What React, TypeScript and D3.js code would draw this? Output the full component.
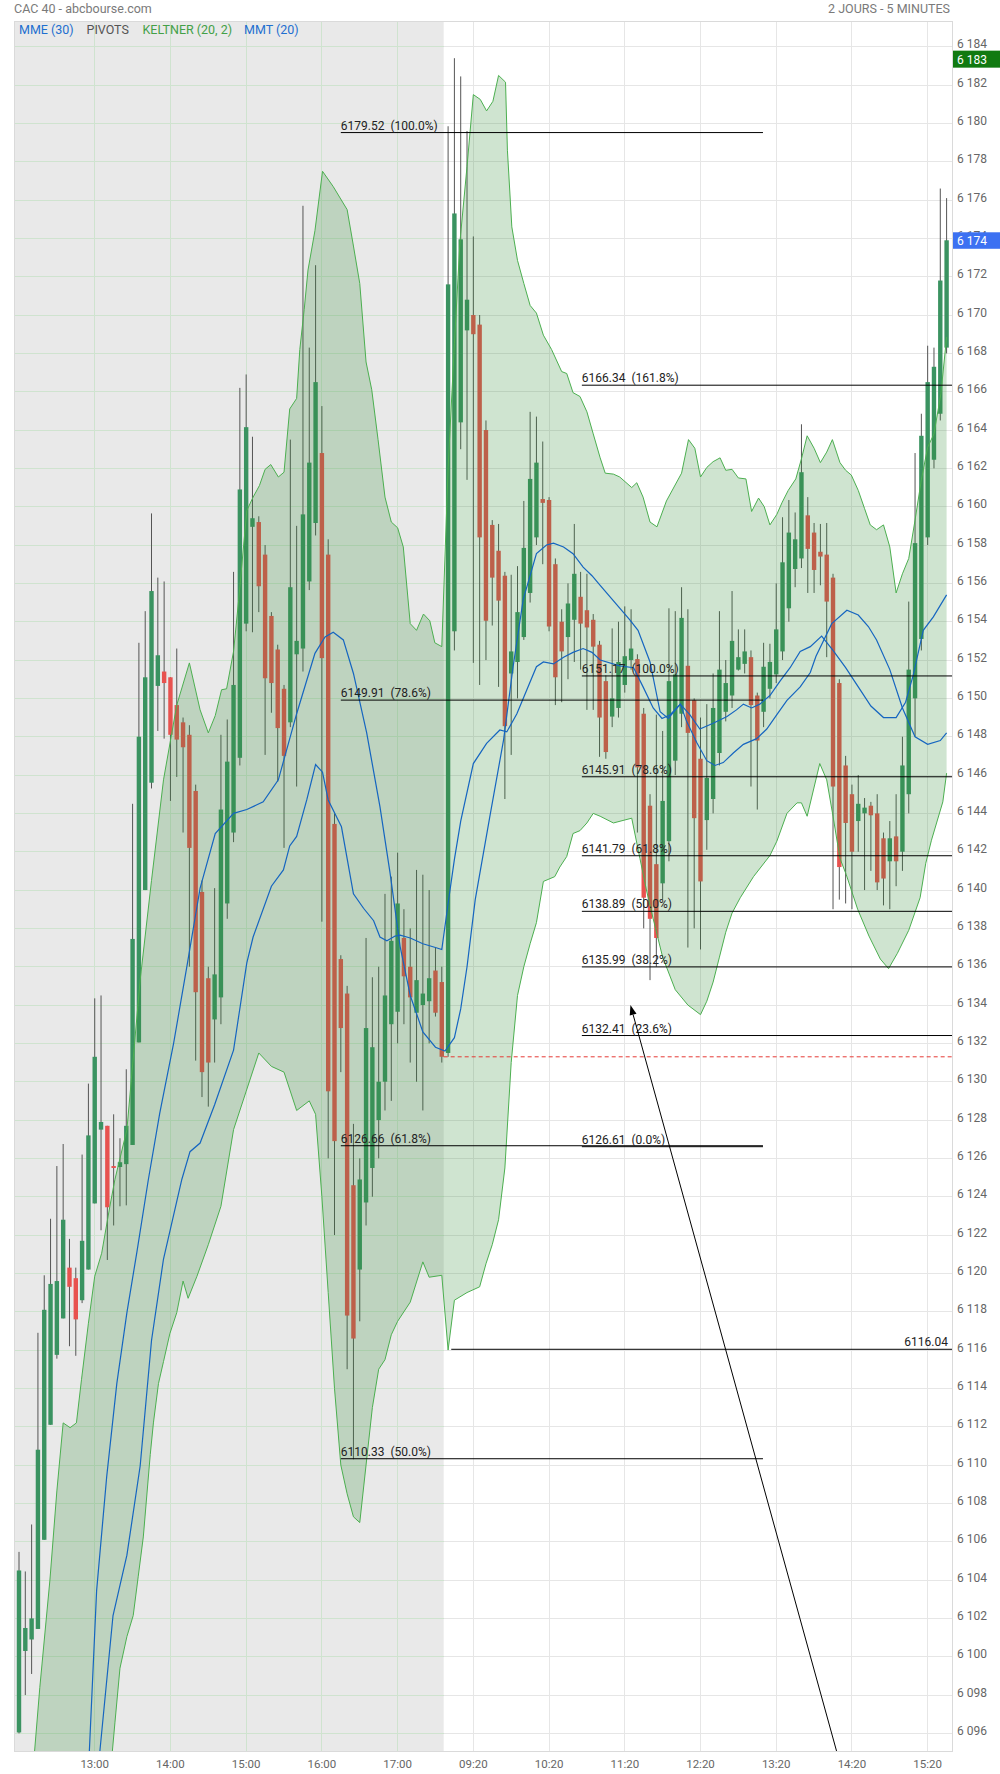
import { useEffect } from 'react';
import * as d3 from 'd3';

// candle data, 5 minute bars: index 0 = 12:00 day 1, index 68 = 09:00 day 2
const OPEN = [
  6096.05, 6100.3, 6100.9, 6101.45, 6106.1, 6112.1, 6115.75, 6117.65, 6120.3, 6119.75,
  6118.6, 6120.2, 6123.65, 6127.5, 6127.7, 6125.6, 6125.55, 6125.7, 6126.7, 6132.05,
  6140.0, 6145.6, 6150.65, 6151.4, 6151.1, 6149.65, 6148.75, 6148.1, 6145.17, 6139.9,
  6135.4, 6133.25, 6134.4, 6139.3, 6143.0, 6146.9, 6153.9, 6158.95, 6159.2, 6157.5,
  6154.3, 6152.55, 6150.5, 6148.75, 6152.3, 6152.6, 6156.1, 6159.15, 6162.8, 6157.5,
  6143.45, 6136.4, 6134.6, 6124.6, 6120.2, 6123.7, 6125.5, 6128.0, 6130.0, 6133.0,
  6133.65, 6137.5, 6136.0, 6133.6, 6134.0, 6134.2, 6135.8, 6135.2,
  6131.5, 6153.5, 6164.4, 6169.2, 6170.0, 6169.5, 6164.0, 6159.05, 6157.7, 6156.4,
  6151.3, 6151.9, 6153.2, 6155.5, 6158.4, 6160.4, 6160.35, 6157.0, 6154.0, 6153.2,
  6154.1, 6155.3, 6154.6, 6154.1, 6152.8, 6150.9, 6149.05, 6149.5, 6150.7, 6152.0,
  6152.05, 6149.2, 6144.4, 6141.35, 6140.35, 6142.55, 6146.75, 6149.2, 6151.7, 6149.9,
  6146.85, 6143.65, 6144.75, 6147.15, 6149.3, 6150.15, 6151.5, 6151.8, 6152.15, 6150.15,
  6149.3, 6150.5, 6151.25, 6152.45, 6154.7, 6156.75, 6157.3, 6159.55, 6158.65, 6157.65,
  6157.5, 6156.3, 6150.8, 6146.5, 6145.0, 6143.6, 6144.0, 6144.4, 6144.0, 6142.7,
  6141.5, 6142.8, 6142.0, 6145.0, 6150.0, 6153.1, 6158.4, 6162.45, 6164.85, 6168.3,
];
const HIGH = [
  6105.47, 6104.45, 6106.9, 6116.9, 6119.9, 6122.85, 6125.6, 6126.75, 6121.8, 6120.3,
  6126.2, 6129.9, 6134.35, 6134.5, 6127.7, 6128.3, 6127.05, 6130.65, 6144.5, 6152.9,
  6154.55, 6159.65, 6156.3, 6156.1, 6151.1, 6152.6, 6149.0, 6148.6, 6145.5, 6140.5,
  6136.0, 6140.1, 6148.1, 6148.9, 6156.6, 6166.2, 6166.9, 6163.65, 6159.5, 6158.0,
  6154.5, 6152.8, 6150.7, 6163.5, 6159.0, 6175.7, 6168.3, 6172.6, 6165.25, 6158.3,
  6144.0, 6136.6, 6135.0, 6127.8, 6126.0, 6137.5, 6135.45, 6136.0, 6139.8, 6140.7,
  6141.95, 6139.0, 6138.0, 6141.05, 6140.8, 6140.0, 6137.0, 6136.0,
  6179.85, 6183.4, 6182.45, 6179.6, 6174.1, 6170.0, 6164.5, 6159.3, 6159.1, 6156.6,
  6156.45, 6156.9, 6160.3, 6164.95, 6164.7, 6163.4, 6160.5, 6157.3, 6154.65, 6156.0,
  6159.1, 6156.6, 6156.5, 6154.4, 6153.0, 6151.2, 6153.65, 6154.0, 6154.8, 6154.65,
  6152.3, 6149.5, 6145.0, 6149.15, 6148.3, 6154.7, 6154.55, 6155.8, 6154.65, 6150.0,
  6149.0, 6149.7, 6151.3, 6154.55, 6152.0, 6155.6, 6153.6, 6153.6, 6152.5, 6150.3,
  6152.9, 6152.85, 6156.0, 6159.45, 6160.35, 6159.7, 6164.3, 6160.5, 6159.15, 6159.1,
  6159.15, 6156.5, 6151.0, 6147.0, 6145.5, 6146.0, 6144.8, 6144.6, 6145.0, 6143.0,
  6143.6, 6145.0, 6148.0, 6155.05, 6162.8, 6164.85, 6168.4, 6168.3, 6176.6, 6176.1,
];
const LOW = [
  6096.0, 6098.0, 6099.1, 6101.45, 6106.1, 6112.1, 6115.55, 6117.65, 6116.2, 6115.7,
  6118.45, 6120.2, 6123.65, 6122.25, 6120.7, 6122.5, 6123.5, 6123.55, 6126.7, 6132.05,
  6140.0, 6145.3, 6148.3, 6147.9, 6144.65, 6145.9, 6143.0, 6136.0, 6131.1, 6129.2,
  6128.7, 6131.0, 6133.0, 6138.5, 6142.5, 6146.5, 6153.5, 6153.45, 6154.5, 6147.05,
  6149.25, 6145.65, 6142.2, 6148.5, 6145.4, 6151.4, 6155.65, 6158.5, 6138.35, 6126.0,
  6122.0, 6130.5, 6115.0, 6110.3, 6117.5, 6122.5, 6124.0, 6126.0, 6128.5, 6129.0,
  6132.0, 6133.0, 6131.0, 6130.0, 6128.5, 6132.0, 6133.4, 6131.0,
  6131.3, 6152.5, 6163.0, 6161.4, 6151.85, 6150.7, 6152.0, 6153.8, 6150.6, 6144.75,
  6147.05, 6150.0, 6153.05, 6155.0, 6158.0, 6157.0, 6153.5, 6149.65, 6149.8, 6151.0,
  6151.9, 6151.5, 6149.4, 6149.4, 6146.95, 6146.85, 6148.5, 6149.0, 6150.3, 6151.5,
  6143.0, 6138.0, 6135.3, 6136.0, 6139.5, 6141.5, 6146.0, 6148.5, 6137.0, 6138.0,
  6136.9, 6142.1, 6144.0, 6146.5, 6148.8, 6149.5, 6151.45, 6151.3, 6145.4, 6144.2,
  6148.5, 6150.0, 6150.8, 6152.0, 6154.0, 6155.8, 6156.8, 6155.5, 6155.5, 6155.9,
  6152.15, 6139.0, 6139.5, 6139.3, 6139.0, 6142.0, 6140.0, 6141.0, 6140.0, 6139.2,
  6139.0, 6140.2, 6141.0, 6144.0, 6148.0, 6152.5, 6158.0, 6162.0, 6164.5, 6168.0,
];
const CLOSE = [
  6104.5, 6101.5, 6102.0, 6110.8, 6118.1, 6119.45, 6119.6, 6122.8, 6119.3, 6117.6,
  6121.7, 6127.2, 6131.3, 6127.9, 6123.45, 6125.5, 6125.8, 6127.7, 6137.45, 6148.0,
  6151.1, 6155.6, 6152.25, 6150.8, 6148.1, 6147.85, 6147.45, 6142.2, 6134.67, 6130.5,
  6131.0, 6135.6, 6144.2, 6146.7, 6150.7, 6160.9, 6164.15, 6159.4, 6155.85, 6151.05,
  6150.8, 6148.45, 6147.0, 6155.8, 6153.0, 6159.6, 6162.3, 6166.5, 6152.1, 6129.5,
  6126.9, 6132.8, 6117.8, 6116.6, 6124.9, 6132.8, 6131.8, 6130.0, 6134.5, 6137.35,
  6139.3, 6135.5, 6134.4, 6135.3, 6134.6, 6135.4, 6133.6, 6131.3,
  6171.6, 6175.3, 6173.95, 6170.8, 6169.0, 6158.4, 6154.05, 6156.3, 6155.1, 6148.55,
  6152.45, 6154.5, 6157.85, 6161.45, 6162.3, 6160.2, 6153.75, 6151.1, 6152.45, 6154.95,
  6156.5, 6153.9, 6153.7, 6152.7, 6149.0, 6147.2, 6150.0, 6151.9, 6152.2, 6152.6,
  6146.4, 6139.6, 6138.5, 6137.5, 6144.65, 6150.9, 6151.25, 6154.2, 6148.2, 6143.75,
  6140.45, 6145.85, 6149.5, 6151.5, 6150.8, 6153.0, 6152.15, 6152.45, 6149.65, 6147.8,
  6151.65, 6151.9, 6153.6, 6157.1, 6158.65, 6158.3, 6161.8, 6157.8, 6156.7, 6157.4,
  6155.05, 6145.4, 6141.2, 6143.5, 6142.0, 6144.5, 6144.3, 6143.9, 6140.4, 6140.6,
  6142.7, 6141.5, 6146.5, 6151.5, 6158.1, 6163.7, 6166.5, 6167.3, 6171.8, 6173.9,
];

// indicator outlines: [candle index, value]
const KELTNER_UPPER: [number, number][] = [
  [2.2, 6094], [3.3, 6098.4], [4.9, 6104.0], [6.0, 6108.65], [7.0, 6112.2], [8.1, 6111.95],
  [9.1, 6112.2], [9.9, 6114.45], [11, 6117.4], [12, 6119.85], [13.1, 6121.05], [14.4, 6123.5],
  [15.2, 6124.9], [17.1, 6127.5], [19.2, 6135.3], [21.0, 6140.5], [22.9, 6145.75], [25, 6149.65],
  [27, 6151.85], [28.7, 6149.4], [30, 6148.2], [31.1, 6149.1], [32.1, 6150.45], [32.9, 6150.5],
  [34, 6152.45], [34.8, 6155.1], [36.1, 6159.8], [37.1, 6160.5], [38.1, 6161.1], [39.0, 6161.95],
  [39.9, 6162.2], [41.1, 6161.55], [42.0, 6161.8], [42.9, 6165.1], [44.0, 6165.65], [44.5, 6168.2],
  [45.2, 6170.3], [45.8, 6172.35], [46.9, 6174.4], [48.1, 6177.5], [49.8, 6176.7], [52.0, 6175.5],
  [53.0, 6173.6], [54.0, 6171.65], [55.0, 6167.55], [55.9, 6166.1], [56.9, 6163.5], [58.0, 6160.5],
  [59.0, 6159.2], [60.0, 6158.9], [60.9, 6157.9], [62, 6153.9], [63, 6153.55], [64.1, 6154.4],
  [65.1, 6154.05], [65.9, 6152.9], [67, 6152.7], [68, 6162], [69, 6168.5], [69.9, 6173.9],
  [71, 6177.75], [72, 6181.5], [73.1, 6181.25], [74.1, 6180.65], [75.1, 6181.15], [76, 6182.5],
  [77.1, 6182.15], [77.4, 6178.6], [78.1, 6174.6], [79, 6172.85], [80, 6171.65], [81, 6170.5],
  [82, 6170.1], [83.1, 6168.95], [84.4, 6168.2], [86, 6167.05], [86.8, 6166.95], [87.8, 6165.95],
  [88.9, 6165.75], [90, 6164.95], [91, 6163.8], [92.1, 6162.55], [92.9, 6161.75], [94.2, 6161.7],
  [95.2, 6161.55], [97.1, 6161.0], [97.9, 6161.25], [98.9, 6160.5], [100, 6159.2], [101.1, 6158.95],
  [102.6, 6160.3], [105, 6161.75], [106.1, 6163.5], [107.1, 6163.05], [108, 6161.55], [109, 6162.05],
  [110, 6162.35], [111.1, 6162.55], [112, 6161.9], [113, 6161.95], [114, 6161.5], [115.2, 6161.45],
  [116.1, 6159.75], [117.2, 6160.45], [118.1, 6160.0], [119, 6159.05], [120.1, 6159.6], [120.9, 6160.2],
  [121.9, 6160.85], [123.1, 6161.45], [124, 6162.5], [124.9, 6163.7], [126, 6163.05], [127, 6162.3],
  [128, 6162.85], [128.9, 6163.5], [130.1, 6162.3], [131, 6161.9], [131.9, 6161.65], [133, 6160.85],
  [134, 6159.9], [134.9, 6159.05], [135.9, 6158.8], [137, 6159.05], [138, 6157.9], [139, 6155.5],
  [140, 6156.5], [141, 6157.3], [142, 6159.3], [143, 6161.4], [144, 6163.1], [145, 6163.8],
  [146.1, 6165.9], [147, 6168.85],
];
const KELTNER_LOWER: [number, number][] = [
  [14.5, 6094], [15.2, 6096.55], [16, 6099.4], [17.1, 6101.05], [18.1, 6102.15], [18.9, 6104.2],
  [19.7, 6106.25], [20.8, 6110.55], [21.3, 6112.2], [22.1, 6114.25], [22.9, 6115.4], [23.9, 6116.85],
  [25, 6117.95], [26, 6119.6], [26.8, 6118.7], [28.2, 6119.85], [30, 6121.5], [32, 6123.5],
  [34, 6127.5], [36, 6129.5], [38, 6131.5], [40, 6130.8], [42, 6130.5], [44, 6128.5],
  [46, 6129.0], [47, 6128.3], [48, 6124], [49, 6119], [50, 6114], [51, 6110], [52, 6108.5],
  [53, 6107.3], [54, 6107.0], [55, 6110], [56, 6113], [57, 6115], [58, 6115.5], [59, 6116.8],
  [60, 6117.5], [62, 6118.5], [64, 6120.6], [65, 6119.8], [67, 6119.9], [68, 6116.0],
  [69, 6118.6], [71, 6119.0], [73, 6119.3], [74, 6120.5], [75, 6121.5], [76, 6122.8],
  [77, 6125.5], [78, 6131], [79, 6134.5], [80, 6136], [81, 6137.2], [82, 6138.3], [83.1, 6140.45],
  [84.9, 6140.7], [85.7, 6141.2], [86.8, 6141.75], [87.8, 6142.95], [88.9, 6143.1], [90, 6143.5],
  [91, 6144.0], [92.1, 6143.85], [94.2, 6143.5], [97.1, 6143.75], [98.4, 6141.65], [99.5, 6139.9],
  [100.5, 6138.5], [102, 6136.5], [104, 6134.8], [106, 6134.0], [108, 6133.5], [109, 6134.2],
  [110, 6135.2], [111, 6136.5], [112, 6137.8], [113, 6138.8], [114.3, 6139.6], [116.4, 6140.7],
  [119, 6141.8], [120.1, 6142.55], [121.7, 6144.0], [123.3, 6144.55], [124, 6144.55], [124.9, 6143.85],
  [126.9, 6146.6], [128, 6145.75], [129, 6143.85], [130.1, 6141.65], [131.1, 6140.8], [132.9, 6139.0],
  [134.7, 6137.6], [136.5, 6136.4], [137.8, 6135.9], [139.2, 6136.7], [141, 6137.9], [142.8, 6139.6],
  [143.7, 6141.4], [144.6, 6142.6], [146.4, 6144.6], [147, 6146.1],
];
const MME_30: [number, number][] = [
  [12.5, 6094], [14.9, 6102.15], [17.1, 6105.3], [19.2, 6109.95], [21.0, 6116.5], [22.9, 6120.75],
  [25.8, 6124.9], [27.1, 6126.35], [28.7, 6126.8], [31, 6128.8], [34, 6131.65], [36.1, 6136.2],
  [37.1, 6137.55], [40, 6140.2], [41.9, 6141.05], [42.9, 6142.3], [44, 6142.8], [45.6, 6144.7],
  [47, 6146.55], [48.1, 6146.15], [49, 6144.7], [51.1, 6143.3], [53, 6139.8], [54.6, 6139.05],
  [56.2, 6138.4], [57.2, 6137.55], [58.3, 6137.35], [59.6, 6137.6], [60.4, 6137.65], [62, 6137.5],
  [64, 6137.2], [66, 6137.0], [67, 6136.9], [68, 6139.3], [69, 6141.6], [70, 6143.6], [72, 6146.6],
  [74.1, 6147.65], [76.2, 6148.35], [77.3, 6148.25], [78.9, 6149.2], [82, 6151.65], [83.1, 6151.9],
  [84.7, 6151.8], [86.3, 6152.15], [87.8, 6152.4], [89.4, 6152.6], [90.8, 6152.4], [92.1, 6152.0],
  [95.2, 6151.7], [97.4, 6151.6], [98.9, 6150.6], [100.5, 6149.5], [101.9, 6148.95], [103.2, 6149.15],
  [104.8, 6149.7], [106.3, 6149.15], [107.9, 6148.4], [110, 6148.7], [112.2, 6149.05], [113.7, 6149.4],
  [114.8, 6149.7], [116.1, 6149.5], [117.4, 6149.7], [119, 6150.15], [120.6, 6150.9], [122.2, 6151.6],
  [123.8, 6152.45], [125.4, 6152.7], [127.2, 6153.25], [129, 6152.5], [131, 6151.6], [133, 6150.6],
  [135, 6149.6], [137, 6149.0], [139, 6149.0], [140.5, 6149.8], [141.7, 6151.2], [143.3, 6153.55],
  [144.9, 6154.25], [147, 6155.4],
];
const MMT_20: [number, number][] = [
  [11, 6094], [12.3, 6103.45], [13.9, 6109.4], [15.5, 6114.25], [17.1, 6117.95], [18.7, 6121.15],
  [20.5, 6124.9], [22.3, 6128.35], [24.5, 6132.0], [26.6, 6136.0], [28.7, 6140.1], [31.1, 6142.95],
  [34, 6144.0], [36.1, 6144.2], [38.7, 6144.6], [41.1, 6145.75], [44, 6149.2], [46.9, 6152.35],
  [48.5, 6153.2], [49.8, 6153.45], [51.4, 6153.05], [53, 6151.3], [55.1, 6148.2], [57.2, 6144.35],
  [58.8, 6140.9], [60.4, 6137.05], [62, 6134.5], [64, 6132.6], [66, 6131.8], [67.5, 6131.6],
  [69, 6132.3], [70, 6133.8], [71, 6136.0], [72.3, 6139.5], [74.6, 6143.8], [76.8, 6147.85],
  [78.3, 6151.65], [79.9, 6155.15], [82, 6157.55], [83.6, 6158.0], [84.7, 6158.1], [86.3, 6157.9],
  [87.8, 6157.55], [89.4, 6156.85], [90.8, 6156.4], [92.1, 6155.9], [96.8, 6154.1], [98.1, 6153.55],
  [100, 6151.9], [101.6, 6149.3], [102.9, 6148.95], [104.8, 6149.7], [105.8, 6148.8], [107.4, 6147.7],
  [109, 6146.75], [110.3, 6146.5], [111.6, 6146.65], [113.2, 6147.15], [114.8, 6147.6], [116.9, 6147.9],
  [118.5, 6148.4], [120.1, 6149.15], [121.7, 6149.9], [123.8, 6150.6], [125.4, 6151.35], [126.3, 6152.2],
  [128.8, 6153.9], [131.2, 6154.6], [133, 6154.35], [134.6, 6153.75], [135.9, 6153.05], [138, 6151.5],
  [140, 6149.5], [142, 6148.0], [144, 6147.6], [146, 6147.8], [147, 6148.2],
];

const HOUR_TICKS: [number, string][] = [
  [12, '13:00'], [24, '14:00'], [36, '15:00'], [48, '16:00'], [60, '17:00'], [72, '09:20'],
  [84, '10:20'], [96, '11:20'], [108, '12:20'], [120, '13:20'], [132, '14:20'], [144, '15:20'],
];
const DAY_SPLIT = 67.3;

// drawn annotations
const FIB_LEFT: [number, string][] = [[6179.52, '100.0%'], [6149.91, '78.6%'], [6126.66, '61.8%'], [6110.33, '50.0%']];
const FIB_LEFT_SPAN = [51.0, 117.9];
const FIB_RIGHT: [number, string][] = [
  [6166.34, '161.8%'], [6151.17, '100.0%'], [6145.91, '78.6%'], [6141.79, '61.8%'],
  [6138.89, '50.0%'], [6135.99, '38.2%'], [6132.41, '23.6%'], [6126.61, '0.0%'],
];
const FIB_RIGHT_START = 89.2;
const SUPPORT = { value: 6116.04, start: 68.5 };
const PREV_CLOSE = 6131.3;
const ARROW = { from: [130.55, 6093.9], to: [96.9, 6134.0] };
const LAST_PRICE = 6174;
const DAY_HIGH = 6183;

const PLOT = { left: 14.5, right: 952, top: 21.7, bottom: 1751 };
const FONT = 'Roboto, "Noto Sans", sans-serif';

const fmt = d3.formatLocale({ decimal: ',', thousands: ' ', grouping: [3], currency: ['', ''] }).format(',d');

export default function App() {
  useEffect(() => {
    document.body.style.margin = '0';
  }, []);

  const x = d3.scaleLinear().domain([0, 147]).range([19, 946.6]);
  const y = d3.scaleLinear().domain([6178, 6096]).range([161.7, 1733.4]);
  const splitX = x(DAY_SPLIT);

  const line = d3.line<[number, number]>().x((d) => x(d[0])).y((d) => y(d[1]));
  const bandPts = [...KELTNER_UPPER, ...KELTNER_LOWER.slice().reverse()];
  const bandPath = line(bandPts) + 'Z';

  const yTicks = d3.range(6096, 6185, 2);
  const bodyW = 4.4;

  const [ax0, ay0] = [x(ARROW.from[0]), y(ARROW.from[1])];
  const [ax1, ay1] = [x(ARROW.to[0]), y(ARROW.to[1])];
  const len = Math.hypot(ax1 - ax0, ay1 - ay0);
  const ux = (ax1 - ax0) / len, uy = (ay1 - ay0) / len;
  const bx = ax1 - ux * 10, by = ay1 - uy * 10;
  const head = `M${ax1},${ay1}L${bx - uy * 3.5},${by + ux * 3.5}L${bx + uy * 3.5},${by - ux * 3.5}Z`;

  return (
    <svg width={1000} height={1774} style={{ display: 'block', background: '#fff' }} fontFamily={FONT}>
      <defs>
        <clipPath id="plot">
          <rect x={PLOT.left} y={PLOT.top} width={PLOT.right - PLOT.left} height={PLOT.bottom - PLOT.top} />
        </clipPath>
      </defs>

      <text x={14} y={12.5} fontSize={12.5} fill="#7a7a7a">CAC 40 - abcbourse.com</text>
      <text x={950} y={12.5} fontSize={12.5} fill="#7a7a7a" textAnchor="end">2 JOURS - 5 MINUTES</text>

      {/* previous day background */}
      <rect x={PLOT.left} y={PLOT.top} width={splitX - PLOT.left} height={PLOT.bottom - PLOT.top} fill="#e9e9e9" />

      {/* grid */}
      <g shapeRendering="crispEdges">
        {yTicks.map((t) => (
          <g key={t}>
            <line x1={PLOT.left} x2={splitX} y1={y(t)} y2={y(t)} stroke="#cfe3cf" />
            <line x1={splitX} x2={PLOT.right} y1={y(t)} y2={y(t)} stroke="#e6e6e6" />
          </g>
        ))}
        {HOUR_TICKS.map(([i]) => (
          <line key={i} x1={x(i)} x2={x(i)} y1={PLOT.top} y2={PLOT.bottom} stroke={x(i) < splitX ? '#cfe3cf' : '#e6e6e6'} />
        ))}
        <rect x={PLOT.left} y={PLOT.top} width={PLOT.right - PLOT.left} height={PLOT.bottom - PLOT.top} fill="none" stroke="#dadada" />
      </g>

      <g clipPath="url(#plot)">
        {/* candles */}
        {OPEN.map((o, i) => {
          const c = CLOSE[i];
          const up = c >= o;
          const top = y(Math.max(o, c));
          const h = Math.max(1, y(Math.min(o, c)) - top);
          return (
            <g key={i}>
              <line x1={x(i)} x2={x(i)} y1={y(HIGH[i])} y2={y(LOW[i])} stroke="#555" strokeWidth={1} />
              <rect x={x(i) - bodyW / 2} y={top} width={bodyW} height={h} fill={up ? '#3a9361' : '#e8524f'} />
            </g>
          );
        })}

        {/* keltner band */}
        <path d={bandPath} fill="rgba(56,142,60,0.24)" stroke="none" />
        <path d={line(KELTNER_UPPER)!} fill="none" stroke="#4caf50" strokeWidth={1} />
        <path d={line(KELTNER_LOWER)!} fill="none" stroke="#4caf50" strokeWidth={1} />

        {/* moving averages */}
        <path d={line(MME_30)!} fill="none" stroke="#1565c0" strokeWidth={1.2} />
        <path d={line(MMT_20)!} fill="none" stroke="#1565c0" strokeWidth={1.2} />

        {/* previous close */}
        <line x1={splitX} x2={PLOT.right} y1={y(PREV_CLOSE)} y2={y(PREV_CLOSE)} stroke="#e53935" strokeDasharray="4,3" />

        {/* fibonacci */}
        {FIB_LEFT.map(([v, p]) => (
          <g key={'l' + v}>
            <line x1={x(FIB_LEFT_SPAN[0])} x2={x(FIB_LEFT_SPAN[1])} y1={y(v)} y2={y(v)} stroke="#000" />
            <text x={x(FIB_LEFT_SPAN[0])} y={y(v) - 3} fontSize={12} fill="#222" style={{ whiteSpace: 'pre' }}>
              {`${v.toFixed(2)}  (${p})`}
            </text>
          </g>
        ))}
        {FIB_RIGHT.map(([v, p]) => (
          <g key={'r' + v}>
            <line x1={x(FIB_RIGHT_START)} x2={p === '0.0%' ? x(FIB_LEFT_SPAN[1]) : PLOT.right} y1={y(v)} y2={y(v)} stroke="#000" />
            <text x={x(FIB_RIGHT_START)} y={y(v) - 3} fontSize={12} fill="#222" style={{ whiteSpace: 'pre' }}>
              {`${v.toFixed(2)}  (${p})`}
            </text>
          </g>
        ))}

        <line x1={x(SUPPORT.start)} x2={PLOT.right} y1={y(SUPPORT.value)} y2={y(SUPPORT.value)} stroke="#000" />
        <text x={PLOT.right - 4} y={y(SUPPORT.value) - 3} fontSize={12} fill="#222" textAnchor="end">
          {SUPPORT.value.toFixed(2)}
        </text>

        <line x1={ax0} y1={ay0} x2={bx} y2={by} stroke="#000" strokeWidth={1} />
        <path d={head} fill="#000" />
      </g>

      {/* legend */}
      <g fontSize={12.5}>
        <text x={19} y={34} fill="#1e6fd0">MME (30)</text>
        <text x={86.5} y={34} fill="#555">PIVOTS</text>
        <text x={142.5} y={34} fill="#43a047">KELTNER (20, 2)</text>
        <text x={244} y={34} fill="#1e6fd0">MMT (20)</text>
      </g>

      {/* y axis */}
      {yTicks.map((t) => (
        <text key={t} x={957} y={y(t) + 1.5} fontSize={12} fill="#666">{fmt(t)}</text>
      ))}
      <rect x={953} y={y(DAY_HIGH + 0.35) - 8.5} width={47} height={17} fill="#117a11" />
      <text x={957} y={y(DAY_HIGH + 0.35) + 4.5} fontSize={12} fill="#fff">{fmt(DAY_HIGH)}</text>
      <rect x={953} y={y(6173.9) - 8} width={47} height={16.5} fill="#3c71f2" />
      <text x={957} y={y(6173.9) + 4.5} fontSize={12} fill="#fff">{fmt(LAST_PRICE)}</text>

      {/* x axis */}
      {HOUR_TICKS.map(([i, l]) => (
        <text key={i} x={x(i)} y={1768} fontSize={11.5} fill="#666" textAnchor="middle">{l}</text>
      ))}
    </svg>
  );
}
